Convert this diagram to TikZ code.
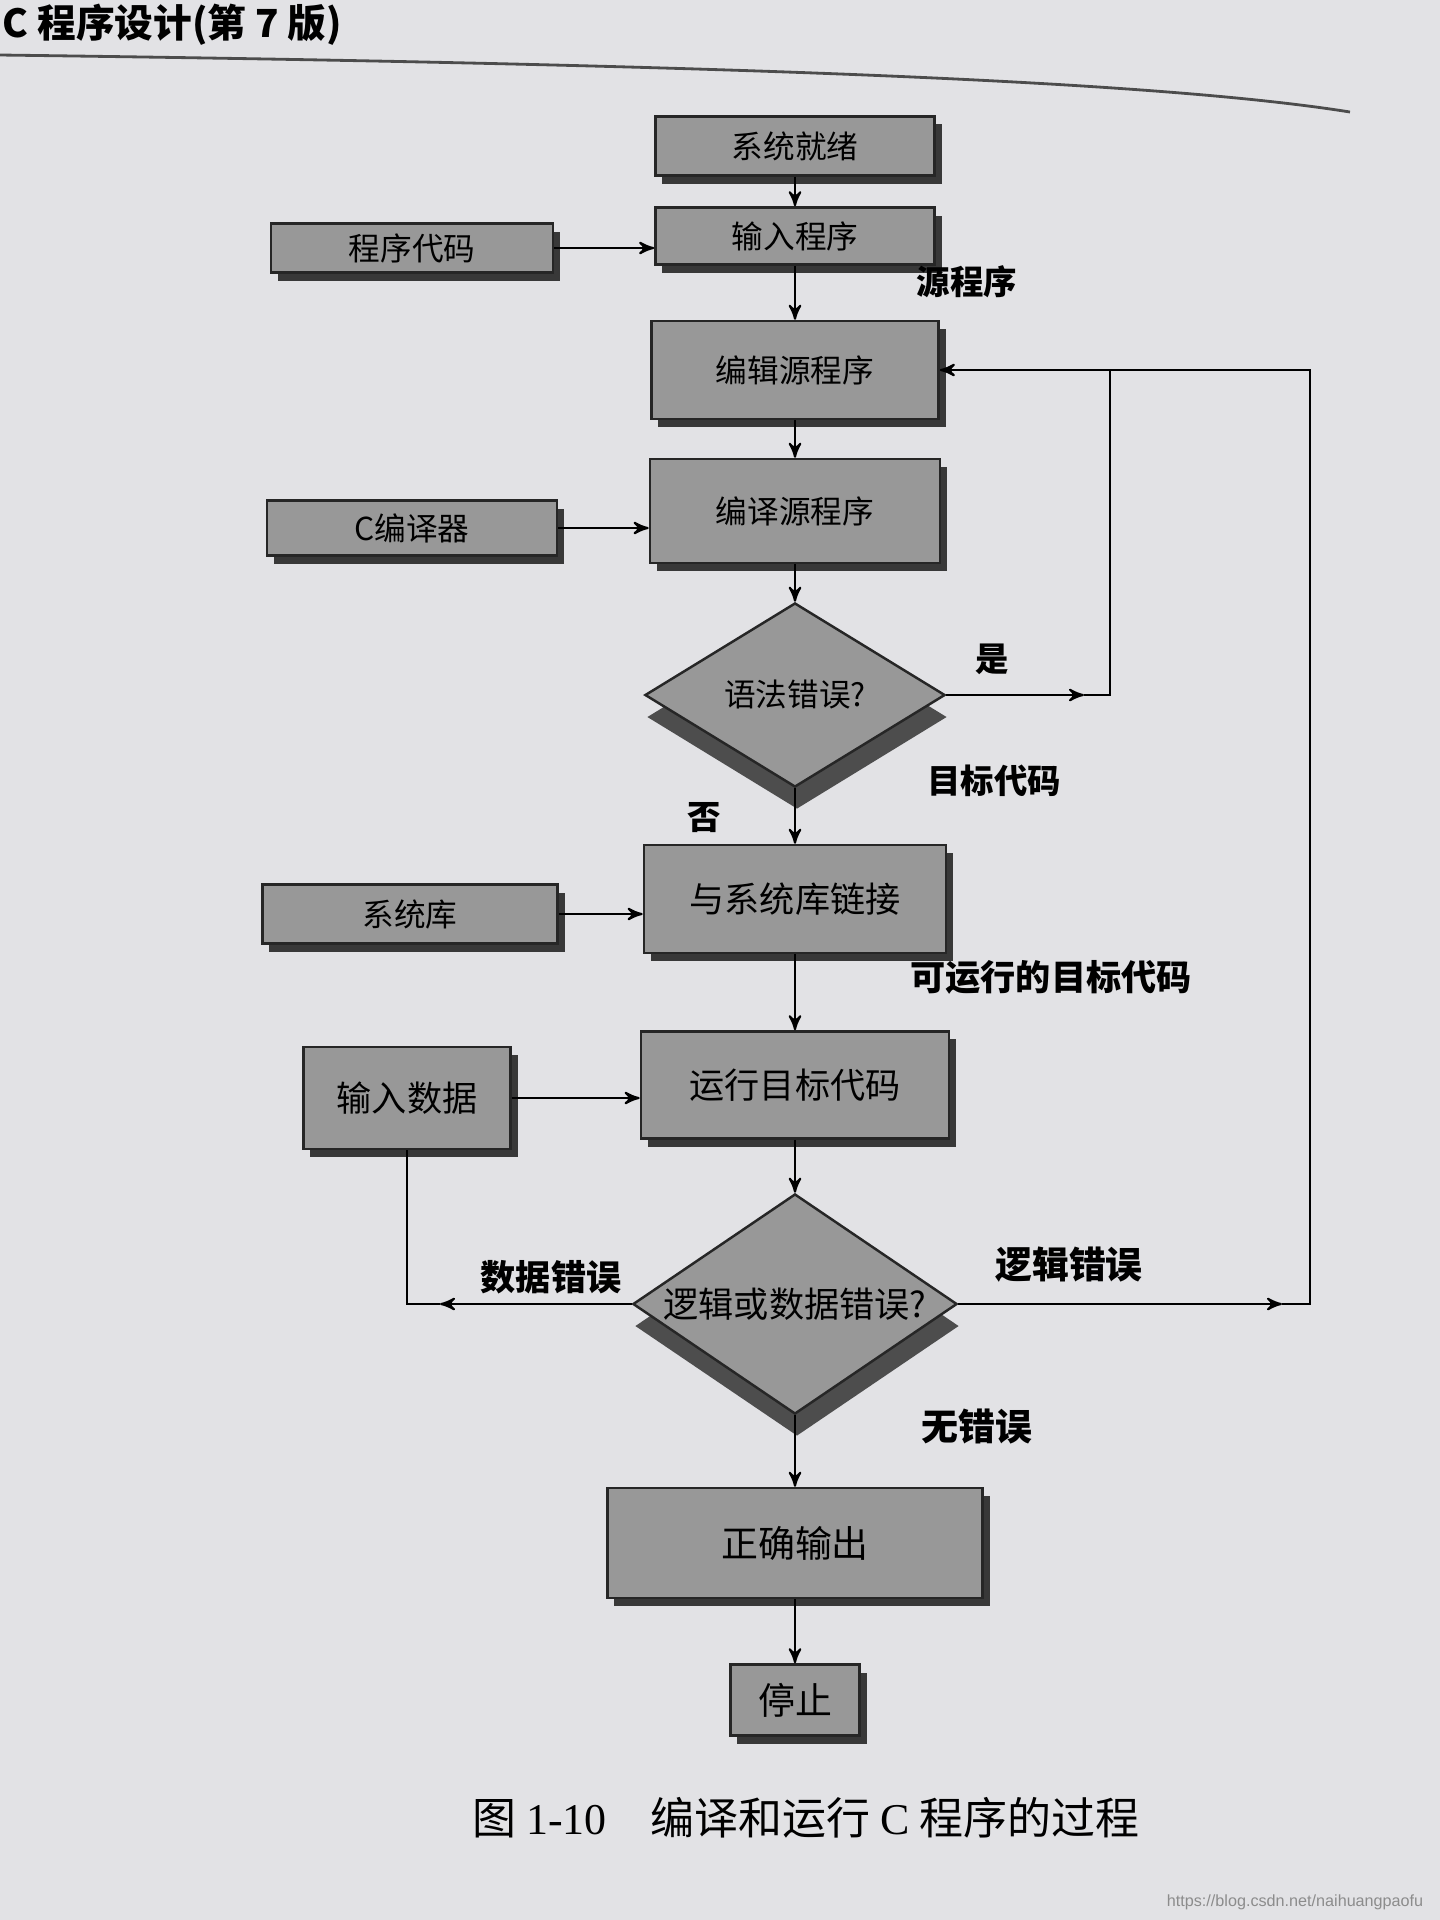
\documentclass[tikz,border=0pt]{standalone}
\usepackage{fontspec}
\setmainfont{Liberation Serif}
\setsansfont{Liberation Sans}
\newfontfamily\cjk{Noto Sans CJK SC}
\usepackage{tikz}
\usetikzlibrary{shapes,arrows,positioning,calc,shadows}
\definecolor{paper}{RGB}{226,226,229}
\definecolor{boxgray}{RGB}{152,152,152}

\begin{document}
\begin{tikzpicture}[x=0.01cm, y=-0.01cm, >=stealth', line width=0.6pt,
    every node/.style={font=\cjk\fontsize{9}{10}\selectfont},
    box/.style={draw=black!85, fill=boxgray, line width=0.7pt, inner sep=0pt,
      drop shadow={shadow xshift=0.07cm, shadow yshift=-0.08cm, fill=black!85, opacity=0.9}},
    decision/.style={diamond, draw=black!85, fill=boxgray, line width=0.7pt, inner sep=0pt,
      drop shadow={shadow xshift=0.02cm, shadow yshift=-0.22cm, fill=black!80, opacity=0.85}},
    bigtext/.style={font=\cjk\fontsize{10}{11}\selectfont},
    lbl/.style={font=\cjk\bfseries\fontsize{9.5}{11}\selectfont}]
  \useasboundingbox (0,0) rectangle (1440,1920);
  \fill[paper] (0,0) rectangle (1440,1920);

  % page header
  \node[anchor=west, font=\cjk\bfseries\fontsize{11}{12}\selectfont] (head) at (-10,25) {C 程序设计(第 7 版)};
  \draw[black!70, line width=0.8pt] (0,55) .. controls (700,64) and (1150,80) .. (1350,112);

  % main column
  \node[box, minimum width=2.79cm, minimum height=0.59cm] (ready) at (795,146) {系统就绪};
  \node[box, minimum width=2.79cm, minimum height=0.57cm] (input) at (795,236) {输入程序};
  \node[box, minimum width=2.82cm, minimum height=0.49cm] (code) at (412,248) {程序代码};
  \node[box, minimum width=2.87cm, minimum height=0.98cm] (edit) at (795,370) {编辑源程序};
  \node[box, minimum width=2.90cm, minimum height=1.04cm] (compile) at (795,511) {编译源程序};
  \node[box, minimum width=2.90cm, minimum height=0.55cm] (cc) at (412,528) {C编译器};
  \node[decision, minimum width=3.00cm, minimum height=1.84cm, label=center:{语法错误?}] (syntax) at (795,695) {};
  \node[box, bigtext, minimum width=3.02cm, minimum height=1.08cm] (link) at (795,899) {与系统库链接};
  \node[box, minimum width=2.95cm, minimum height=0.59cm] (lib) at (410,914) {系统库};
  \node[box, bigtext, minimum width=3.08cm, minimum height=1.07cm] (run) at (795,1085) {运行目标代码};
  \node[box, bigtext, minimum width=2.07cm, minimum height=1.02cm] (data) at (407,1098) {输入数据};
  \node[decision, minimum width=3.24cm, minimum height=2.20cm,
    label={[bigtext]center:逻辑或数据错误?}] (logic) at (795,1304) {};
  \node[box, font=\cjk\fontsize{10.5}{12}\selectfont, minimum width=3.75cm, minimum height=1.10cm] (output) at (795,1543) {正确输出};
  \node[box, font=\cjk\fontsize{10.5}{12}\selectfont, minimum width=1.29cm, minimum height=0.71cm] (stop) at (795,1700) {停止};

  % labels
  \node[lbl] (lsrc) at (967,282) {源程序};
  \node[lbl] (lyes) at (992,659) {是};
  \node[lbl] (lobj) at (994,781) {目标代码};
  \node[lbl] (lno) at (704,818) {否};
  \node[lbl, font=\cjk\bfseries\fontsize{10}{11}\selectfont] (lexe) at (1051,977) {可运行的目标代码};
  \node[lbl, font=\cjk\bfseries\fontsize{10}{11}\selectfont] (ldata) at (551,1277) {数据错误};
  \node[lbl, font=\cjk\bfseries\fontsize{10.5}{12}\selectfont] (llogic) at (1069,1265) {逻辑错误};
  \node[lbl, font=\cjk\bfseries\fontsize{10.5}{12}\selectfont] (lok) at (977,1427) {无错误};

  % straight arrows
  \draw[->] (ready) -- (input);
  \draw[->] (code.east) -- (code.east -| input.west);
  \draw[->] (input) -- (edit);
  \draw[->] (edit) -- (compile);
  \draw[->] (cc.east) -- (cc.east -| compile.west);
  \draw[->] (compile) -- (syntax);
  \draw[->] (syntax) -- (link);
  \draw[->] (lib.east) -- (lib.east -| link.west);
  \draw[->] (link) -- (run);
  \draw[->] (data.east) -- (data.east -| run.west);
  \draw[->] (run) -- (logic);
  \draw[->] (logic) -- (output);
  \draw[->] (output) -- (stop);

  % loops back
  \coordinate (yestip) at (1084,695);
  \coordinate (yescorner) at (1110,695);
  \draw[->] (syntax.east) -- (yestip);
  \draw[->] (yestip) -- (yescorner) |- (edit.east);
  \coordinate (logictip) at (1282,1304);
  \coordinate (logiccorner) at (1310,1304);
  \draw[->] (logic.east) -- (logictip);
  \draw (logictip) -- (logiccorner) |- (yescorner |- edit.east);
  \coordinate (datatip) at (440,1304);
  \coordinate (datacorner) at (data.south |- logic.west);
  \draw[->] (logic.west) -- (datatip);
  \draw (datatip) -- (datacorner) -- (data.south);

  % caption
  \node[font=\cjk\fontsize{12.5}{14}\selectfont] (cap) at (806,1818)
    {图 {\rmfamily 1-10}\quad 编译和运行 {\rmfamily C} 程序的过程};
  \node[anchor=east, font=\sffamily\fontsize{4.6}{5}\selectfont, text=black!45] (wm) at (1436,1902)
    {https://blog.csdn.net/naihuangpaofu};
\end{tikzpicture}
\end{document}
